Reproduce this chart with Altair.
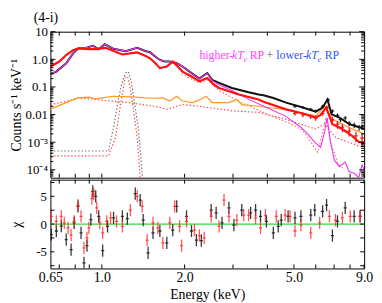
import altair as alt
import pandas as pd

FONT = "Liberation Serif"

# ---------------- top panel: model curves (Energy keV, counts s^-1 keV^-1)
black_E = [0.65, 0.683, 0.742, 0.786, 0.819, 0.875, 0.927, 0.974, 1.024, 1.094, 1.218, 1.345,
           1.437, 1.497, 1.56, 1.626, 1.695, 1.767, 1.872, 1.966, 2.084, 2.263, 2.418, 2.52,
           2.67, 2.973, 3.421, 3.716, 3.872, 4.206, 4.682, 5.387, 6.0, 6.356, 6.62, 6.85,
           7.32, 7.94, 8.63, 9.0]
black_C = [0.29, 0.36, 0.72, 1.64, 2.47, 2.6, 3.1, 2.33, 3.53, 2.47, 1.98, 2.6,
           2.0, 1.8, 1.3, 0.95, 0.83, 0.83, 0.72, 0.55, 0.36, 0.20, 0.32, 0.18,
           0.14, 0.092, 0.064, 0.053, 0.050, 0.040, 0.027, 0.018, 0.0128, 0.018, 0.035, 0.0102,
           0.0078, 0.0045, 0.0035, 0.0030]

mag_E = [0.65, 0.683, 0.742, 0.786, 0.819, 0.875, 0.927, 0.974, 1.024, 1.094, 1.218, 1.345,
         1.437, 1.497, 1.56, 1.626, 1.695, 1.767, 1.872, 1.966, 2.084, 2.263, 2.418, 2.52,
         2.67, 2.973, 3.15, 3.5, 3.94, 4.64, 5.3, 5.6, 5.95, 6.25, 6.46, 6.6, 6.79, 7.02,
         7.32, 7.68, 7.94, 8.28, 8.6, 8.85, 9.0]
mag_C = [0.29, 0.36, 0.72, 1.64, 2.47, 2.6, 3.1, 2.33, 3.53, 2.47, 1.98, 2.6,
         2.0, 1.8, 1.3, 0.95, 0.83, 0.83, 0.72, 0.55, 0.36, 0.20, 0.31, 0.17,
         0.12, 0.075, 0.055, 0.032, 0.019, 0.009, 0.0035, 0.002, 0.001, 0.00066, 0.0023, 0.0078,
         0.001, 0.00022, 0.00013, 0.00019, 0.000085, 0.000075, 0.000052, 0.00015, 0.0001]

red_E = [0.65, 0.70, 0.742, 0.786, 0.819, 0.897, 0.95, 1.032, 1.121, 1.188, 1.345, 1.437,
         1.497, 1.56, 1.626, 1.723, 1.811, 1.888, 1.966, 2.119, 2.263, 2.418, 2.56, 2.67,
         3.15, 3.716, 3.872, 4.682, 5.387, 6.0, 6.25, 6.55, 6.9, 7.5, 8.14, 8.63, 9.0]
red_C = [0.55, 0.83, 1.43, 2.15, 2.47, 2.33, 2.33, 2.6, 1.88, 1.5, 1.78, 1.35,
         1.09, 0.75, 0.48, 0.55, 0.83, 0.55, 0.36, 0.24, 0.16, 0.21, 0.12, 0.092,
         0.053, 0.035, 0.029, 0.0155, 0.011, 0.0078, 0.0098, 0.018, 0.0045, 0.0030, 0.0017, 0.0010, 0.0010]

orange_E = [0.65, 0.683, 0.742, 0.786, 0.819, 0.897, 0.95, 1.032, 1.094, 1.291, 1.437, 1.56,
            1.667, 1.767, 1.872, 1.966, 2.137, 2.263, 2.398, 2.52, 2.90, 3.098, 3.228, 3.716,
            4.682, 6.0, 6.46, 6.9, 7.94, 9.0]
orange_C = [0.0155, 0.0194, 0.027, 0.034, 0.040, 0.043, 0.037, 0.042, 0.046, 0.044, 0.040, 0.039,
            0.040, 0.031, 0.046, 0.031, 0.027, 0.034, 0.046, 0.027, 0.027, 0.035, 0.023, 0.020,
            0.015, 0.009, 0.020, 0.0067, 0.0034, 0.0020]

rdot_E = [0.65, 0.742, 0.819, 0.95, 1.248, 1.56, 1.723, 1.966, 2.263, 2.973, 3.716, 4.682,
          6.0, 6.46, 7.08, 8.85, 9.0]
rdot_C = [0.023, 0.030, 0.040, 0.035, 0.027, 0.020, 0.0155, 0.023, 0.020, 0.0137, 0.012, 0.0067,
          0.0030, 0.0046, 0.0015, 0.00066, 0.0006]

pdot_E = [1.95, 2.263, 2.418, 2.67, 3.15, 3.937, 4.76, 5.387, 6.1, 6.55, 6.79, 7.2, 7.6]
pdot_C = [0.30, 0.14, 0.18, 0.075, 0.030, 0.011, 0.0051, 0.0027, 0.00043, 0.0078, 0.001, 0.00019, 0.0001]

gray_E = [0.65, 1.058, 1.103, 1.14, 1.179, 1.218, 1.248, 1.28, 1.312, 1.356, 1.39, 1.41]
gray_C = [0.00048, 0.00048, 0.0035, 0.023, 0.12, 0.32, 0.36, 0.16, 0.031, 0.0035, 0.00022, 0.00003]

rgau_E = [0.65, 1.058, 1.121, 1.169, 1.218, 1.248, 1.291, 1.345, 1.38, 1.40]
rgau_C = [0.00032, 0.00032, 0.0015, 0.023, 0.24, 0.21, 0.031, 0.0015, 0.00005, 0.00003]

# high-energy data crosses
bdat_E = [5.04, 5.39, 5.75, 6.0, 6.36, 6.65, 6.9, 7.2, 7.38, 7.68, 7.94, 8.28, 8.63, 8.85]
bdat_C = [0.020, 0.018, 0.0155, 0.0135, 0.020, 0.034, 0.0135, 0.0095, 0.0065, 0.0075, 0.0048, 0.0042, 0.0034, 0.0036]
bdat_err = [0.0025, 0.0022, 0.002, 0.0018, 0.0025, 0.004, 0.002, 0.0015, 0.0012, 0.0014, 0.001, 0.0009, 0.0008, 0.0008]
rdat_E = [5.04, 5.39, 5.75, 6.0, 6.36, 6.6, 6.9, 7.2, 7.5, 7.94, 8.4, 8.85]
rdat_C = [0.011, 0.0098, 0.0085, 0.0075, 0.011, 0.018, 0.0065, 0.0045, 0.0035, 0.0025, 0.0017, 0.0014]
rdat_err = [0.002, 0.0018, 0.0016, 0.0015, 0.002, 0.003, 0.0018, 0.0014, 0.0012, 0.0009, 0.0007, 0.0007]

# ---------------- residuals (chi)
bres_E = [0.655, 0.683, 0.712, 0.742, 0.773, 0.793, 0.819, 0.84, 0.861, 0.883, 0.912, 0.927,
          0.95, 0.974, 1.007, 1.049, 1.103, 1.188, 1.238, 1.323, 1.379, 1.414, 1.473, 1.535,
          1.626, 1.723, 1.811, 1.872, 2.033, 2.119, 2.208, 2.301, 2.499, 2.605, 2.737, 2.9,
          3.023, 3.228, 3.478, 3.625, 3.778, 3.97, 4.206, 4.384, 4.494, 4.76, 5.043, 5.299,
          5.756, 5.951, 6.356, 6.57, 6.9, 7.2, 7.68, 8.28, 8.7]
bres_X = [-1.9, -1.25, -0.36, -2.8, -4.6, 0.2, 3.2, -1.6, -7.0, -3.9, 0.8, 5.9,
          5.0, 1.4, -4.8, -0.4, 1.1, 1.4, 1.0, 5.5, 4.3, 0.7, -5.2, -1.6,
          -1.25, -3.4, -1.1, 3.2, 1.4, -1.25, -2.9, -3.0, 2.5, 2.0, 0.2, 2.9,
          -0.2, 2.5, 2.0, 2.5, 1.4, 0.5, -1.6, -0.4, 0.7, 1.4, 1.1, 1.4,
          1.6, 2.5, 2.3, 3.4, -2.1, 0.5, 2.9, 1.4, 1.4]
rres_E = [0.655, 0.683, 0.712, 0.73, 0.754, 0.773, 0.793, 0.819, 0.84, 0.861, 0.883, 0.897,
          0.92, 0.935, 0.958, 0.983, 1.007, 1.041, 1.076, 1.131, 1.188, 1.27, 1.345, 1.402,
          1.461, 1.535, 1.599, 1.667, 1.767, 1.841, 1.918, 1.95, 2.033, 2.172, 2.263, 2.358,
          2.499, 2.67, 2.783, 2.9, 3.098, 3.282, 3.421, 3.625, 3.778, 3.937, 4.311, 4.644,
          4.839, 5.043, 5.299, 5.756, 6.201, 6.73, 7.08, 7.5, 8.01, 8.7]
rres_X = [1.4, 0.5, 1.4, 0.2, -0.7, -2.0, 0.5, 3.4, 1.4, -4.3, -2.5, -0.7,
          4.6, 5.4, 2.9, 0.2, -1.6, 0.5, 1.1, 0.5, -0.4, 2.5, 5.0, 3.2,
          -2.9, 0.2, -0.7, -3.4, 0.2, 3.2, -0.4, -3.9, 0.5, -1.1, -2.1, -2.5,
          1.4, -0.4, 4.3, 1.4, 0.7, 1.6, 1.6, 1.1, -0.7, 1.6, 1.4, 1.6,
          1.4, -1.25, -0.2, -1.6, 0.2, 1.4, 0.7, 1.1, 1.4, 1.4]

# ---------------- ticks
x_ticks = [0.7, 0.8, 0.9, 1, 2, 3, 4, 5, 6, 7, 8, 9]
x_labels = [0.65, 1, 2, 5, 9]
y_major = [1e-4, 1e-3, 1e-2, 1e-1, 1, 10]
y_minor = [m * d for d in [1e-5, 1e-4, 1e-3, 1e-2, 1e-1, 1] for m in range(2, 10) if 5.2e-5 <= m * d <= 10]
r_ticks = [-7.5, -5, -2.5, 0, 2.5, 5, 7.5]

W, H1, H2 = 318, 148, 90

xs = alt.Scale(type="log", domain=[0.65, 9.0], nice=False)
ys = alt.Scale(type="log", domain=[5.2e-5, 10], nice=False)
rs = alt.Scale(domain=[-8, 8], nice=False, zero=False)

top_y_expr = ("datum.value >= 5 ? '10' : datum.value >= 0.5 ? '1.0' : datum.value >= 0.05 ? '0.1' : "
              "datum.value >= 0.005 ? '0.01' : datum.value >= 0.0005 ? '10⁻³' : '10⁻⁴'")

AXF = dict(labelFont=FONT, titleFont=FONT, titleFontSize=14, labelColor="black",
           titleColor="black", titleFontWeight="normal", ticks=False, domain=False, grid=False)

AX_TOP_Y = alt.Axis(values=y_major, labelExpr=top_y_expr, title="Counts s⁻¹ keV⁻¹",
                    titlePadding=2, labelPadding=3, labelFontSize=13, **AXF)
AX_BOT_X = alt.Axis(values=x_labels, labelExpr="datum.value < 0.7 ? '0.65' : format(datum.value, '.1f')",
                    title="Energy (keV)", labelPadding=2, titlePadding=3, labelFlush=False,
                    labelOverlap=False, labelBound=False, labelFontSize=14, **AXF)
AX_BOT_Y = alt.Axis(values=[-5, 0, 5], labelExpr="datum.value == 0 ? '0' : datum.value > 0 ? '5' : '-5'",
                    title="χ", titlePadding=12, labelPadding=4, labelFontSize=13, **AXF)


def xt(field):
    return alt.X(field, scale=xs, axis=None)


def yt(field):
    return alt.Y(field, scale=ys, axis=AX_TOP_Y)


def xb(field):
    return alt.X(field, scale=xs, axis=AX_BOT_X)


def yb(field):
    return alt.Y(field, scale=rs, axis=AX_BOT_Y)


def curve(E, C, color, width, dash=None):
    kw = dict(color=color, strokeWidth=width, clip=True)
    if dash:
        kw["strokeDash"] = dash
    return alt.Chart(pd.DataFrame({"E": E, "C": C})).mark_line(**kw).encode(
        x=xt("E:Q"), y=yt("C:Q"), order="E:Q")


def crosses_top(E, C, err, color, width):
    df = pd.DataFrame({"E": E, "C": C, "err": err})
    base = alt.Chart(df).transform_calculate(lo="datum.C - datum.err", hi="datum.C + datum.err",
                                             xlo="datum.E * 0.985", xhi="datum.E * 1.015")
    v = base.mark_rule(color=color, strokeWidth=width, clip=True).encode(
        x=xt("E:Q"), y=yt("lo:Q"), y2="hi:Q")
    h = base.mark_rule(color=color, strokeWidth=width, clip=True).encode(
        x=xt("xlo:Q"), x2="xhi:Q", y=yt("C:Q"))
    return v + h


def crosses_res(E, X, color, opacity):
    df = pd.DataFrame({"E": E, "X": X})
    base = alt.Chart(df).transform_calculate(lo="datum.X - 1.1", hi="datum.X + 1.1",
                                             xlo="datum.E * 0.987", xhi="datum.E * 1.013")
    v = base.mark_rule(color=color, strokeWidth=1.3, opacity=opacity, clip=True).encode(
        x=xb("E:Q"), y=yb("lo:Q"), y2="hi:Q")
    h = base.mark_rule(color=color, strokeWidth=1.3, opacity=opacity, clip=True).encode(
        x=xb("xlo:Q"), x2="xhi:Q", y=yb("X:Q"))
    return v + h


def xticks(H, X):
    df = pd.DataFrame({"E": x_ticks})
    b = alt.Chart(df).mark_rule(color="black", strokeWidth=1).encode(x=X, y=alt.value(H), y2=alt.value(H - 4))
    t = alt.Chart(df).mark_rule(color="black", strokeWidth=1).encode(x=X, y=alt.value(0), y2=alt.value(4))
    return b + t


def yticks(vals, Y, field, length):
    df = pd.DataFrame({field: vals})
    l = alt.Chart(df).mark_rule(color="black", strokeWidth=1).encode(y=Y, x=alt.value(0), x2=alt.value(length))
    r = alt.Chart(df).mark_rule(color="black", strokeWidth=1).encode(y=Y, x=alt.value(W), x2=alt.value(W - length))
    return l + r


def label(text, x, y, color, size=12, italic=False):
    return alt.Chart(pd.DataFrame({"t": [text]})).mark_text(
        align="left", baseline="alphabetic", font=FONT, fontSize=size, color=color,
        fontStyle="italic" if italic else "normal").encode(text="t:N", x=alt.value(x), y=alt.value(y))


legend = (label("higher-", 151, 28, "#ff44ff") + label("kT", 184, 28, "#ff44ff", italic=True)
          + label("e", 196, 31, "#ff44ff", size=8, italic=True) + label("RP", 202, 28, "#ff44ff")
          + label("+", 219, 28, "#555555")
          + label("lower-", 229, 28, "#3355ff") + label("kT", 259, 28, "#3355ff", italic=True)
          + label("e", 271, 31, "#3355ff", size=8, italic=True) + label("RP", 278, 28, "#3355ff"))

panel_label = alt.Chart(pd.DataFrame({"t": ["(4-i)"]})).mark_text(
    align="left", baseline="top", font=FONT, fontSize=14, color="black").encode(
    text="t:N", x=alt.value(-17), y=alt.value(-21))

top = alt.layer(
    curve(gray_E, gray_C, "#777777", 1.2, [1.5, 2]),
    curve(rgau_E, rgau_C, "#ff5050", 1.2, [1.5, 2]),
    curve(rdot_E, rdot_C, "#ff5050", 1.2, [1.5, 2]),
    curve(pdot_E, pdot_C, "#ff7070", 1.2, [1.5, 2]),
    curve(orange_E, orange_C, "#ff9922", 1.2),
    curve(black_E, black_C, "#111111", 2.0),
    curve(mag_E, mag_C, "#ee33ee", 1.1),
    curve(red_E, red_C, "#ff1111", 2.2),
    crosses_top(bdat_E, bdat_C, bdat_err, "#111111", 1.1),
    crosses_top(rdat_E, rdat_C, rdat_err, "#ff1111", 1.3),
    xticks(H1, xt("E:Q")),
    yticks(y_major, yt("C:Q"), "C", 5),
    yticks(y_minor, yt("C:Q"), "C", 3),
    legend,
    panel_label,
).properties(width=W, height=H1)

zero = alt.Chart(pd.DataFrame({"X": [0]})).mark_rule(color="#33dd33", strokeWidth=1.3).encode(y=yb("X:Q"))

bottom = alt.layer(
    zero,
    crosses_res(bres_E, bres_X, "#222222", 0.9),
    crosses_res(rres_E, rres_X, "#ff2020", 0.75),
    xticks(H2, xb("E:Q")),
    yticks(r_ticks, yb("X:Q"), "X", 4),
).properties(width=W, height=H2)

chart = alt.vconcat(top, bottom, spacing=0, background="white", padding=0).configure_view(
    stroke="black", strokeWidth=1)

chart.save("out.html", embed_options={"renderer": "svg", "actions": False})
